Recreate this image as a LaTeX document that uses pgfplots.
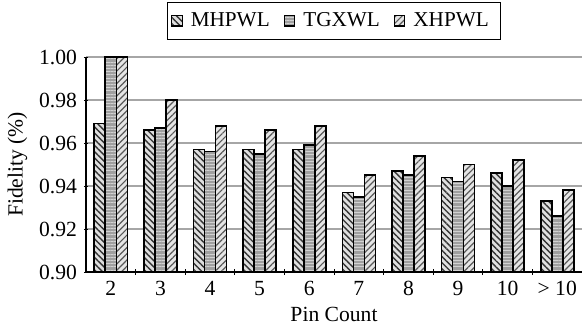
\documentclass[border=0pt]{standalone}
\usepackage{fontspec}
\setmainfont{Liberation Serif}
\usepackage{pgfplots}
\pgfplotsset{compat=1.18}
\usetikzlibrary{patterns.meta}
\begin{document}
\begin{tikzpicture}
\begin{axis}[
  scale only axis,
  width=248pt, height=107.5pt,
  anchor=south west, at={(0,0)},
  ybar=0pt, bar width=5.5pt,
  xmin=-0.5, xmax=9.5,
  ymin=0.90, ymax=1.00,
  xtick={0,...,9},
  xticklabels={2,3,4,5,6,7,8,9,10,> 10},
  minor xtick={0.5,1.5,...,8.5},
  x tick style={draw=none},
  minor x tick style={draw=black, thin},
  minor tick length=3pt,
  xtick align=inside,
  ytick={0.90,0.92,...,1.001},
  y tick style={draw=black, thin},
  ytick align=outside, major tick length=2pt,
  yticklabel style={/pgf/number format/.cd, fixed, fixed zerofill, precision=2},
  tick label style={font=\fontsize{10.8}{13}\selectfont},
  label style={font=\fontsize{10.8}{13}\selectfont},
  /pgf/number format/assume math mode=true,
  ymajorgrids, grid style={gray!70, line width=0.6pt},
  axis lines=left, axis line style={-, line width=0.8pt},
  clip=false,
  xlabel={Pin Count}, ylabel={Fidelity (\%)},
  ylabel style={yshift=-1pt},
  xlabel style={yshift=1pt},
  legend columns=3,
  legend style={draw=black, line width=0.6pt, at={(0.5,1.08)}, anchor=south,
    font=\fontsize{10.6}{12}\selectfont,
    /tikz/every even column/.append style={column sep=3pt},
    inner xsep=2pt, inner ysep=3pt,
    nodes={inner xsep=4pt}},
  legend image code/.code={\draw[#1, line width=0.6pt] (0pt,-2.7pt) rectangle (5.2pt,2.5pt);},
]
\addplot[draw=black, line width=0.8pt, fill=gray!25,
  postaction={pattern={Lines[angle=-45,distance=2.2pt,line width=0.7pt]}, pattern color=black!80}]
  coordinates {(0,0.969) (1,0.966) (2,0.957) (3,0.957) (4,0.957) (5,0.937) (6,0.947) (7,0.944) (8,0.946) (9,0.933)};
\addplot[draw=black, line width=0.8pt, fill=gray!75,
  postaction={pattern={Lines[angle=0,distance=1.6pt,line width=0.5pt]}, pattern color=gray!35}]
  coordinates {(0,1.000) (1,0.967) (2,0.956) (3,0.955) (4,0.959) (5,0.935) (6,0.945) (7,0.942) (8,0.940) (9,0.926)};
\addplot[draw=black, line width=0.8pt, fill=gray!20,
  postaction={pattern={Lines[angle=45,distance=2.2pt,line width=0.6pt]}, pattern color=black!65}]
  coordinates {(0,1.000) (1,0.980) (2,0.968) (3,0.966) (4,0.968) (5,0.945) (6,0.954) (7,0.950) (8,0.952) (9,0.938)};
\legend{MHPWL, TGXWL, XHPWL}
\end{axis}
\pgfresetboundingbox
\path (-43pt,-29.5pt) rectangle (248.5pt,136pt);
\end{tikzpicture}
\end{document}
